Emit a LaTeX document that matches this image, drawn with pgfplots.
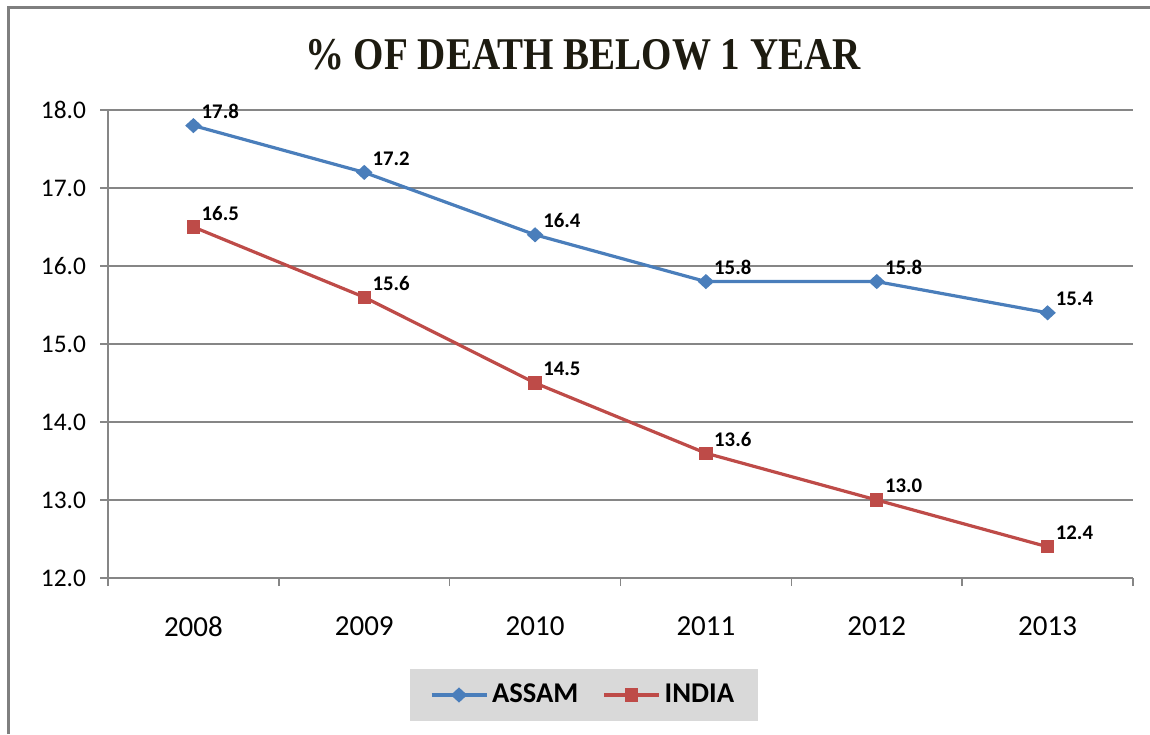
\documentclass[border=0pt]{standalone}
\usepackage{fontspec}
\setmainfont{Carlito}
\newfontfamily\titlefont{Liberation Serif}
\usepackage{pgfplots}
\pgfplotsset{compat=1.18}
\definecolor{assam}{HTML}{4A7EBB}
\definecolor{india}{HTML}{BE4B48}
\definecolor{gridc}{HTML}{868686}
\definecolor{framec}{HTML}{7F7F7F}
\definecolor{legbg}{HTML}{D9D9D9}
\definecolor{titlec}{HTML}{1D1B10}
\begin{document}
\begin{tikzpicture}[x=1pt,y=1pt]
\useasboundingbox (0,0) rectangle (575,367);
\draw[framec, line width=1.5pt] (4,0) -- (4,363) -- (575,363);
\node[anchor=base, inner sep=0pt, font=\titlefont\bfseries\fontsize{22.7}{26}\selectfont, text=titlec] at (291.5,332) {\scalebox{0.86}[1]{\% OF DEATH BELOW 1 YEAR}};
\begin{axis}[
  at={(54pt,78pt)}, anchor=south west,
  scale only axis, width=512.5pt, height=234pt,
  xmin=-0.5, xmax=5.5, ymin=12, ymax=18,
  ytick={12,13,14,15,16,17,18},
  xtick={0,1,2,3,4,5},
  xticklabels={2008,2009,2010,2011,2012,2013},
  minor xtick={-0.5,0.5,1.5,2.5,3.5,4.5,5.5},
  axis x line*=bottom, axis y line*=left,
  axis line style={gridc, line width=0.8pt},
  tick align=outside,
  major tick length=4pt, minor tick length=4pt,
  x tick style={draw=none},
  minor x tick style={draw=gridc, line width=0.8pt},
  y tick style={draw=gridc, line width=0.8pt},
  ymajorgrids, grid style={gridc, line width=0.75pt},
  /pgf/number format/assume math mode=true,
  y tick label style={font=\fontsize{12.7}{14}\selectfont, /pgf/number format/fixed, /pgf/number format/fixed zerofill, /pgf/number format/precision=1, xshift=-3.5pt},
  x tick label style={font=\fontsize{14.5}{16}\selectfont, yshift=-12pt},
  nodes near coords={\pgfmathprintnumber[fixed,fixed zerofill,precision=1,assume math mode=true]{\pgfplotspointmeta}},
  every node near coord/.append style={font=\bfseries\fontsize{10.4}{12}\selectfont, text=black, anchor=west, xshift=0pt, yshift=7pt},
  legend style={at={(0.4644,-0.25)}, anchor=center, fill=legbg, draw=none,
    font=\bfseries\fontsize{14.3}{16}\selectfont, inner xsep=10pt, inner ysep=5.5pt,
    /tikz/every even column/.append style={column sep=10pt}},
  legend columns=2,
  legend image code/.code={\draw[mark repeat=2,mark phase=2] plot coordinates {(0pt,0pt) (13.75pt,0pt) (27.5pt,0pt)};},
]
\addplot[assam, line width=1.6pt, mark=diamond*, mark size=2.7pt, mark options={solid, fill=assam, xscale=1.45}]
  coordinates {(0,17.8) (1,17.2) (2,16.4) (3,15.8) (4,15.8) (5,15.4)};
\addlegendentry{ASSAM}
\addplot[india, line width=1.6pt, mark=square*, mark size=2.5pt, mark options={solid, fill=india}]
  coordinates {(0,16.5) (1,15.6) (2,14.5) (3,13.6) (4,13.0) (5,12.4)};
\addlegendentry{INDIA}
\end{axis}
\end{tikzpicture}
\end{document}
